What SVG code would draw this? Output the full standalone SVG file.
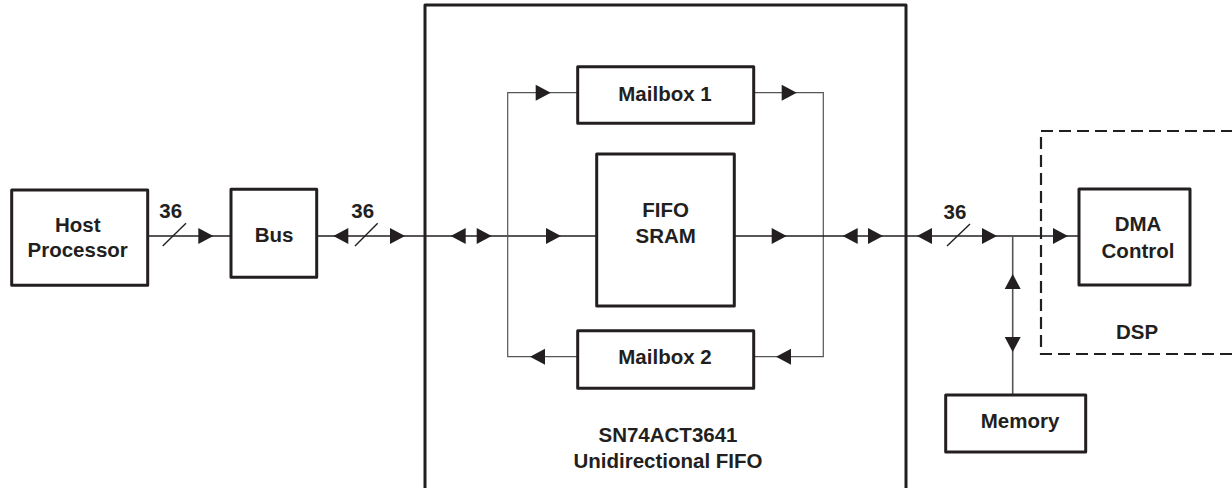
<svg xmlns="http://www.w3.org/2000/svg" width="1232" height="488" viewBox="0 0 1232 488">
<style>
.box{fill:#fff;stroke:#231f20;stroke-width:3;stroke-linejoin:round}
.ln{fill:none;stroke:#231f20;stroke-width:1.4}
.gl{fill:none;stroke:#555;stroke-width:1.2}
.dash{fill:none;stroke:#231f20;stroke-width:2.2;stroke-dasharray:12 6}
.t{font-family:"Liberation Sans",Arial,Helvetica,sans-serif;font-weight:bold;font-size:20.5px;fill:#231f20;text-anchor:middle}
.ah{fill:#231f20}
</style>
<defs>
<path id="ar" class="ah" d="M0,0 L-15,-8 L-15,8 Z"/>
</defs>
<rect x="0" y="0" width="1232" height="488" fill="#fff"/>

<g id="fifo-chip">
<rect class="box" x="425" y="5" width="481" height="500"/>
<text class="t" x="668" y="441.5">SN74ACT3641</text>
<text class="t" x="668" y="468">Unidirectional FIFO</text>
</g>

<g id="dsp">
<rect class="dash" x="1041" y="131" width="200" height="223"/>
<text class="t" x="1137" y="339">DSP</text>
</g>

<g id="connectors">
<!-- Host to Bus -->
<line class="ln" x1="147" y1="236" x2="231" y2="236"/>
<line class="ln" x1="162.7" y1="246" x2="186" y2="223.3"/>
<use href="#ar" transform="translate(213.3,236)"/>
<!-- Bus to chip -->
<line class="ln" x1="317" y1="236" x2="597" y2="236"/>
<line class="ln" x1="355" y1="246" x2="377.7" y2="223.3"/>
<use href="#ar" transform="translate(333.3,236) rotate(180)"/>
<use href="#ar" transform="translate(405,236)"/>
<use href="#ar" transform="translate(450.7,236) rotate(180)"/>
<use href="#ar" transform="translate(491.7,236)"/>
<use href="#ar" transform="translate(561,236)"/>
<!-- inner loop left -->
<polyline class="gl" points="578,92.7 507.7,92.7 507.7,356.7 578,356.7"/>
<use href="#ar" transform="translate(550.7,92.7)"/>
<use href="#ar" transform="translate(530,356.7) rotate(180)"/>
<!-- inner loop right -->
<polyline class="gl" points="753.7,92.7 823.3,92.7 823.3,356.7 753.7,356.7"/>
<use href="#ar" transform="translate(796.7,92.7)"/>
<use href="#ar" transform="translate(776,356.7) rotate(180)"/>
<!-- FIFO out to DMA -->
<line class="ln" x1="734" y1="236" x2="1079" y2="236"/>
<use href="#ar" transform="translate(786.7,236)"/>
<use href="#ar" transform="translate(842.7,236) rotate(180)"/>
<use href="#ar" transform="translate(883,236)"/>
<use href="#ar" transform="translate(917,236) rotate(180)"/>
<line class="ln" x1="947" y1="246" x2="970" y2="224"/>
<use href="#ar" transform="translate(997,236)"/>
<use href="#ar" transform="translate(1068,236)"/>
<!-- Memory -->
<line class="gl" x1="1012.7" y1="236" x2="1012.7" y2="395" style="stroke-width:1.6"/>
<use href="#ar" transform="translate(1012.7,274) rotate(-90)"/>
<use href="#ar" transform="translate(1012.7,352) rotate(90)"/>
<!-- labels -->
<text class="t" x="170.7" y="218.3">36</text>
<text class="t" x="362.7" y="218.3">36</text>
<text class="t" x="955" y="219">36</text>
</g>

<g id="host">
<rect class="box" x="11.7" y="190" width="136" height="95.3"/>
<text class="t" x="77.7" y="231.7">Host</text>
<text class="t" x="77.7" y="257.3">Processor</text>
</g>

<g id="bus">
<rect class="box" x="231" y="189.3" width="85.7" height="88"/>
<text class="t" x="274" y="241.7">Bus</text>
</g>

<g id="mailbox1">
<rect class="box" x="577.7" y="66.7" width="176" height="56.6"/>
<text class="t" x="665" y="100.7">Mailbox 1</text>
</g>

<g id="fifo-sram">
<rect class="box" x="596.7" y="154" width="137.6" height="152"/>
<text class="t" x="665.7" y="216.7">FIFO</text>
<text class="t" x="665.7" y="243.3">SRAM</text>
</g>

<g id="mailbox2">
<rect class="box" x="577.7" y="330.7" width="176" height="57.6"/>
<text class="t" x="665" y="364.3">Mailbox 2</text>
</g>

<g id="dma">
<rect class="box" x="1079" y="189" width="111" height="96"/>
<text class="t" x="1138" y="231">DMA</text>
<text class="t" x="1138" y="258">Control</text>
</g>

<g id="memory">
<rect class="box" x="945.7" y="395" width="140" height="57"/>
<text class="t" x="1020" y="428.3">Memory</text>
</g>
</svg>
